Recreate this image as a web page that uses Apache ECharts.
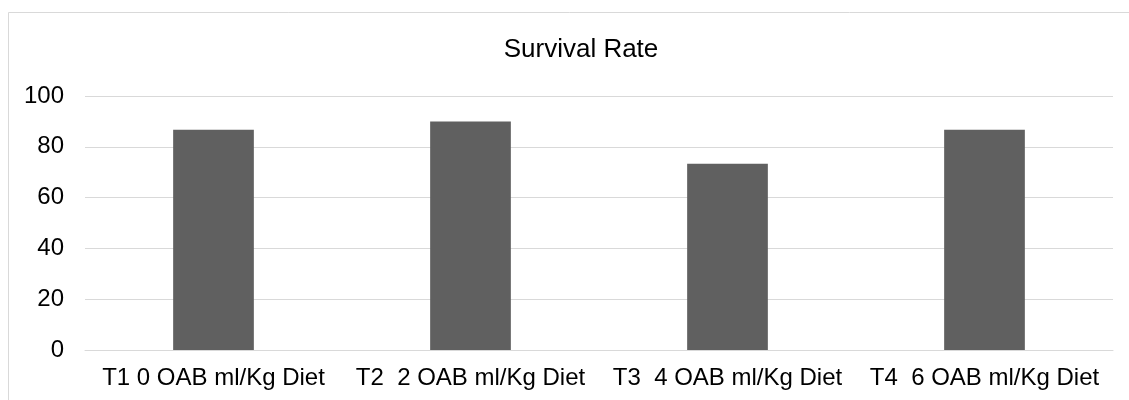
<!DOCTYPE html>
<html>
<head>
<meta charset="utf-8">
<script src="https://cdn.jsdelivr.net/npm/echarts@6/dist/echarts.min.js"></script>
<style>
html,body{margin:0;padding:0;background:#fff;}
#c{width:1129px;height:400px;}
</style>
</head>
<body>
<div id="c"></div>
<script>
const categories = ["T1 0 OAB ml/Kg Diet", "T2  2 OAB ml/Kg Diet", "T3  4 OAB ml/Kg Diet", "T4  6 OAB ml/Kg Diet"];
const survivalRate = [86.67, 90, 73.33, 86.67];
const yTicks = [0, 20, 40, 60, 80, 100];

const chart = echarts.init(document.getElementById('c'), null, {renderer: 'canvas'});
chart.setOption({
  animation: false,
  backgroundColor: '#ffffff',
  textStyle: {fontFamily: 'Liberation Sans, Arial, sans-serif'},
  graphic: [{
    type: 'rect',
    shape: {x: 8.5, y: 12.5, width: 1300, height: 600},
    style: {fill: 'none', stroke: '#d9d9d9', lineWidth: 1},
    silent: true
  }],
  title: {
    text: 'Survival Rate',
    left: 576,
    textAlign: 'center',
    top: 32,
    textStyle: {fontFamily: 'Liberation Sans, Arial, sans-serif', fontSize: 26, fontWeight: 'normal', color: '#000000'}
  },
  grid: {left: 85, right: 16, top: 96, bottom: 50, containLabel: false},
  xAxis: {
    type: 'category',
    data: categories,
    axisLine: {show: true, lineStyle: {color: '#d9d9d9', width: 1}},
    axisTick: {show: false},
    axisLabel: {color: '#000000', fontSize: 24, margin: 16, interval: 0, fontFamily: 'Liberation Sans, Arial, sans-serif'}
  },
  yAxis: {
    type: 'value',
    min: yTicks[0],
    max: yTicks[yTicks.length - 1],
    interval: yTicks[1] - yTicks[0],
    axisLine: {show: false},
    axisTick: {show: false},
    splitLine: {lineStyle: {color: '#d9d9d9', width: 1}},
    axisLabel: {color: '#000000', fontSize: 24, margin: 21, fontFamily: 'Liberation Sans, Arial, sans-serif'}
  },
  series: [{
    type: 'bar',
    data: survivalRate,
    barWidth: '31.4%',
    itemStyle: {color: '#606060'}
  }]
});
</script>
</body>
</html>
